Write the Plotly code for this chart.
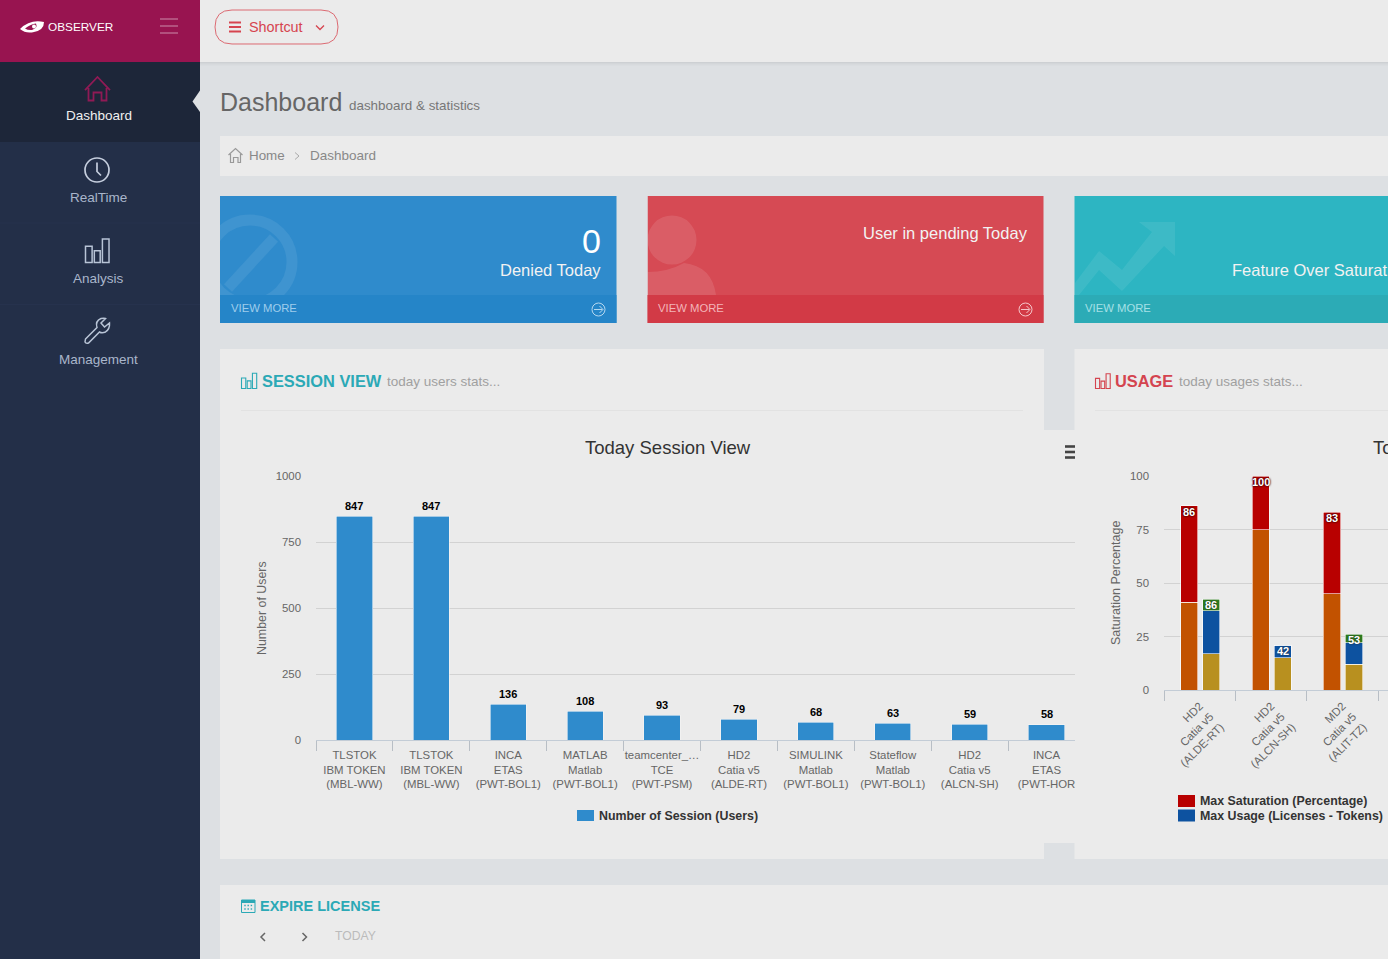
import plotly.graph_objects as go

W = 1388
H = 959

# chart data
session_labels = ["TLSTOK<br>IBM TOKEN<br>(MBL-WW)", "TLSTOK<br>IBM TOKEN<br>(MBL-WW)", "INCA<br>ETAS<br>(PWT-BOL1)",
                  "MATLAB<br>Matlab<br>(PWT-BOL1)", "teamcenter_…<br>TCE<br>(PWT-PSM)", "HD2<br>Catia v5<br>(ALDE-RT)",
                  "SIMULINK<br>Matlab<br>(PWT-BOL1)", "Stateflow<br>Matlab<br>(PWT-BOL1)", "HD2<br>Catia v5<br>(ALCN-SH)",
                  "INCA<br>ETAS<br>(PWT-HOR"]
session_values = [847, 847, 136, 108, 93, 79, 68, 63, 59, 58]
session_ticks = [0, 250, 500, 750, 1000]

usage_labels = ["HD2<br>Catia v5<br>(ALDE-RT)", "HD2<br>Catia v5<br>(ALCN-SH)", "MD2<br>Catia v5<br>(ALIT-TZ)"]
usage_ticks = [0, 25, 50, 75, 100]
sat_avg = [41, 75, 45]
sat_max = [45, 25, 38]
sat_text = ["86", "100", "83"]
lic_avg = [17, 15, 12]
lic_max = [20, 6, 10]
lic_top = [5.5, 0, 4]
lic_text = ["86", "42", "53"]

BG = "#dde0e3"
PANEL = "#ebebeb"
SIDE = "#232f48"
TEAL = "#2ba9b6"
RED = "#d4444f"
FONT = "Liberation Sans"

shapes = []
notes = []


def fx(x):
    return x / W


def fy(y):
    return 1 - y / H


def rect(x0, y0, x1, y1, fill, line=None, lw=1):
    shapes.append(dict(type="rect", xref="paper", yref="paper", x0=fx(x0), x1=fx(x1), y0=fy(y0), y1=fy(y1),
                       fillcolor=fill, line=dict(color=line or "rgba(0,0,0,0)", width=lw if line else 0), layer="below"))


def circle(cx, cy, r, fill=None, line=None, lw=1):
    shapes.append(dict(type="circle", xref="paper", yref="paper", x0=fx(cx - r), x1=fx(cx + r), y0=fy(cy - r), y1=fy(cy + r),
                       fillcolor=fill or "rgba(0,0,0,0)", line=dict(color=line or "rgba(0,0,0,0)", width=lw if line else 0), layer="below"))


def path(d, fill=None, line=None, lw=1):
    # d is written in screen pixels, converted here to paper fractions
    out = []
    is_x = True
    for tok in d.split():
        if tok.isalpha():
            out.append(tok)
        elif is_x:
            out.append(str(round(fx(float(tok)), 5)))
            is_x = False
        else:
            out.append(str(round(fy(float(tok)), 5)))
            is_x = True
    shapes.append(dict(type="path", xref="paper", yref="paper", path=" ".join(out),
                       fillcolor=fill or "rgba(0,0,0,0)", line=dict(color=line or "rgba(0,0,0,0)", width=lw if line else 0), layer="below"))


def text(x, y, s, size, color, anchor="left", bold=False, family=FONT, angle=0):
    notes.append(dict(xref="paper", yref="paper", x=fx(x), y=fy(y), text="<b>" + s + "</b>" if bold else s, showarrow=False,
                      xanchor=anchor, yanchor="middle", borderpad=0, borderwidth=0, textangle=angle,
                      font=dict(family=family, size=size, color=color)))


def barLabel(xaxis, yaxis, x, y, s, color, shift, shadow="none"):
    # value label tied to the data position of the bar top
    notes.append(dict(xref=xaxis, yref=yaxis, x=x, y=y, yshift=shift, text="<b>%s</b>" % s, showarrow=False,
                      xanchor="center", yanchor="middle", borderpad=0, borderwidth=0,
                      font=dict(family=FONT, size=11, color=color, shadow=shadow)))


def barsIcon(x, y, color, s=1.0, lw=1.3):
    # three outlined columns, x/y is the bottom left corner
    for dx, w, h in [(0, 4.5, 11), (6, 4, 8), (11.5, 4.5, 16)]:
        rect(x + dx * s, y - h * s, x + (dx + w) * s, y, "rgba(0,0,0,0)", color, lw)


# page blocks
rect(200, 62, 1388, 68, BG)
rect(200, 0, 1388, 62, PANEL)
for i, a in enumerate([0.07, 0.045, 0.025, 0.012]):
    rect(200, 62 + i, 1388, 63 + i, "rgba(0,0,0,%s)" % a)
rect(0, 62, 200, 959, SIDE)
rect(0, 62, 200, 142, "#1d2639")
rect(0, 222.5, 200, 223.5, "#26324d")
rect(0, 304, 200, 305, "#26324d")
rect(0, 0, 200, 62, "#981450")
path("M 200 90.5 L 192.5 101.5 L 200 112 Z", BG)

# logo and top bar
path("M 20 29 Q 30 19 44 22 Q 44 30 34 32 Q 26 34 20 29 Z", "#ffffff")
path("M 25 28.5 Q 31 24 36 23.5 Q 38 28 32 30 Q 28 30.5 25 28.5 Z", "#981450")
circle(34, 26.5, 2, "#ffffff")
text(48, 27, "OBSERVER", 11.8, "#ffffff")
for y in [19, 26, 33]:
    rect(160, y - 0.4, 178, y + 0.4, "rgba(255,255,255,0.65)")

path("M 232 10 L 321 10 Q 338 10 338 27 Q 338 44 321 44 L 232 44 Q 215 44 215 27 Q 215 10 232 10 Z", None, "#dc6a72", 1)
for y in [22.5, 27, 31.5]:
    rect(229, y - 1, 241, y + 1, "#d6444f")
text(249, 27, "Shortcut", 14.4, "#d6444f")
path("M 316 25.5 L 320 29.5 L 324 25.5", None, "#d6444f", 1.3)

text(220, 102, "Dashboard", 25, "#666666")
text(349, 106, "dashboard &amp; statistics", 13.4, "#777777")

rect(220, 136, 1388, 176, PANEL)
path("M 228.5 155 L 235.5 148.5 L 242.5 155 M 230.5 154 L 230.5 162.5 L 233.5 162.5 L 233.5 157.5 L 238 157.5 L 238 162.5 L 240.5 162.5 L 240.5 154",
     None, "#999999", 1.2)
text(249, 155.5, "Home", 13.4, "#888888")
path("M 295 152.5 L 299 156 L 295 159.5", None, "#aaaaaa", 1)
text(310, 155.5, "Dashboard", 13.5, "#888888")

# sidebar menu
path("M 85 90 L 97.5 77 L 110 90 M 88.5 88 L 88.5 100.5 L 93.5 100.5 L 93.5 92.5 L 101.5 92.5 L 101.5 100.5 L 106.5 100.5 L 106.5 88",
     None, "#8f1a55", 1.8)
text(98.5, 116, "Dashboard", 13.5, "#f0f0f0", "center")
circle(97, 170, 12, None, "#c5cede", 1.7)
path("M 97 162.5 L 97 171.5 L 101 175.5", None, "#c5cede", 1.7)
text(98.5, 198, "RealTime", 13.5, "#a9b6cb", "center")
barsIcon(85.5, 262.5, "#b8c4d6", 1.47, 1.5)
text(98.5, 278.5, "Analysis", 13.5, "#a9b6cb", "center")
path("M 85.5 339 L 97 327.5 Q 95 321 101 318.5 Q 104 318 105.5 318.5 L 101 323 L 104.5 327 L 109.5 323 Q 110 329 105.5 332 Q 102 333.5 99.5 332 L 88.5 343 Q 86 344 85 342 Z",
     None, "#b8c4d6", 1.5)
text(98.5, 359.5, "Management", 13.5, "#a9b6cb", "center")

# stat cards
rect(220, 196, 616.5, 323, "#2f8bcc")
circle(250, 262, 42, None, "rgba(255,255,255,0.08)", 11)
path("M 228 288 L 274 238", None, "rgba(255,255,255,0.08)", 11)
rect(200.5, 196, 220, 323, BG)
rect(220, 295, 616.5, 323, "#2585c8")
text(601, 241, "0", 34, "#ffffff", "right")
text(601, 270, "Denied Today", 16.5, "#f2f2f2", "right")
text(231, 308, "VIEW MORE", 11.3, "#9fcdec")
circle(598.5, 309.5, 6.5, None, "#b5d8f0", 1)
path("M 594 309.5 L 602.5 309.5 M 599.5 306 L 603 309.5 L 599.5 313", None, "#b5d8f0", 1)

rect(647.5, 196, 1043.5, 323, "#d64a54")
circle(672, 240, 24.5, "rgba(255,255,255,0.11)")
path("M 647.5 272 Q 668 272 684 263 Q 712 266 716 295 L 647.5 295 Z", "rgba(255,255,255,0.11)")
rect(617, 196, 647.5, 323, BG)
rect(647.5, 295, 1043.5, 323, "#d23a46")
text(1027.5, 233, "User in pending Today", 16.5, "#f2f2f2", "right")
text(658, 308, "VIEW MORE", 11.3, "#f3b4b9")
circle(1025.5, 309.5, 6.5, None, "#f5c6ca", 1)
path("M 1021 309.5 L 1029.5 309.5 M 1026.5 306 L 1030 309.5 L 1026.5 313", None, "#f5c6ca", 1)

rect(1074.5, 196, 1388, 323, "#2db5c2")
path("M 1075 283 L 1099 251 L 1122 270 L 1152 232 L 1139 222 L 1175 222 L 1175 256 L 1164 246 L 1122 291 L 1099 270 L 1075 300 Z",
     "rgba(255,255,255,0.08)")
rect(1074.5, 295, 1388, 323, "#2cabb6")
text(1232, 270.5, "Feature Over Saturat", 16.5, "#f2f2f2")
text(1085, 308, "VIEW MORE", 11.3, "#a5e0e6")

# chart panels
rect(220, 349, 1044, 859, PANEL)
rect(1044, 430, 1075, 843, PANEL)
rect(1074.5, 349, 1388, 859, PANEL)
rect(220, 885, 1388, 959, PANEL)
rect(241, 410, 1023, 411, "#e2e2e2")
rect(1095, 410, 1388, 411, "#e2e2e2")

barsIcon(241.5, 388.5, TEAL, 0.95, 1.1)
text(262, 381, "SESSION VIEW", 16.4, TEAL, bold=True)
text(387, 382, "today users stats...", 13.5, "#a0a0a0")
barsIcon(1095.5, 388.5, RED, 0.92, 1.1)
text(1115, 381, "USAGE", 16.4, RED, bold=True)
text(1179, 382, "today usages stats...", 13.5, "#a0a0a0")

text(668, 447.5, "Today Session View", 18.5, "#333333", "center")
text(1373, 447.5, "To", 18.5, "#333333")
for y in [446.5, 452, 457.5]:
    rect(1065, y - 1.3, 1075, y + 1.3, "#444444")

text(262, 608, "Number of Users", 12.4, "#666666", "center", angle=-90)
text(1116, 583, "Saturation Percentage", 12.5, "#666666", "center", angle=-90)

# legends
rect(577, 810, 594, 821, "#2f8bcc")
text(599, 816, "Number of Session (Users)", 12.4, "#333333", bold=True)
rect(1178, 795, 1195, 807, "#b80000")
text(1200, 801, "Max Saturation (Percentage)", 12.4, "#333333", bold=True)
rect(1178, 809.5, 1195, 821.5, "#0d52a0")
text(1200, 816, "Max Usage (Licenses - Tokens)", 12.4, "#333333", bold=True)

# expire license block
rect(241.5, 900, 255, 912.5, "rgba(0,0,0,0)", TEAL, 1)
rect(241.5, 900, 255, 903, TEAL)
for yy in [905.5, 909]:
    for xx in [245, 248.2, 251.4]:
        rect(xx - 0.7, yy - 0.7, xx + 0.7, yy + 0.7, TEAL)
text(260, 906, "EXPIRE LICENSE", 14.5, TEAL, bold=True)
path("M 265 933 L 261 937 L 265 941", None, "#666666", 1.5)
path("M 302.5 933 L 306.5 937 L 302.5 941", None, "#666666", 1.5)
text(335, 936, "TODAY", 12.2, "#bbbbbb")

fig = go.Figure()

session_x = list(range(len(session_values)))
fig.add_trace(go.Bar(x=session_x, y=session_values, width=0.47, name="Number of Session (Users)",
                     marker=dict(color="#2f8bcc", line=dict(color="#f5f5f5", width=0.6)),
                     xaxis="x", yaxis="y", showlegend=False))
for i, v in enumerate(session_values):
    barLabel("x", "y", i, v, v, "#000000", 10.5)

usage_x = list(range(len(usage_labels)))
left_x = [i - 0.147 for i in usage_x]
right_x = [i + 0.161 for i in usage_x]
usage_series = [
    ("Avg Saturation", left_x, sat_avg, "#c25200"),
    ("Max Saturation (Percentage)", left_x, sat_max, "#b80000"),
    ("Avg Usage", right_x, lic_avg, "#b8901f"),
    ("Max Usage (Licenses - Tokens)", right_x, lic_max, "#0d52a0"),
    ("Over Usage", right_x, lic_top, "#2f7d1e"),
]
for name, xs, ys, col in usage_series:
    fig.add_trace(go.Bar(x=xs, y=ys, width=0.24, name=name,
                         marker=dict(color=col, line=dict(color="#ffffff", width=0.6)),
                         xaxis="x2", yaxis="y2", showlegend=False))
for i in usage_x:
    barLabel("x2", "y2", left_x[i], sat_avg[i] + sat_max[i], sat_text[i], "#ffffff", -6, "0 0 2px #300, 0 0 2px #300")
    barLabel("x2", "y2", right_x[i], lic_avg[i] + lic_max[i] + lic_top[i], lic_text[i], "#ffffff", -6, "0 0 2px #222")

axis_font = dict(family=FONT, size=11.4, color="#666666")
fig.update_layout(
    width=W, height=H, autosize=False,
    margin=dict(l=0, r=0, t=0, b=0, autoexpand=False),
    paper_bgcolor=BG, plot_bgcolor="rgba(0,0,0,0)",
    barmode="stack", showlegend=False,
    shapes=shapes, annotations=notes,
    xaxis=dict(domain=[fx(316), fx(1075)], range=[-0.5, -0.5 + (1075 - 316) / 76.9], anchor="y",
               tickmode="array", tickvals=session_x, ticktext=session_labels, ticks="", tickfont=axis_font,
               tickangle=0, showgrid=False, zeroline=False, showline=True, linecolor="#c3ccd6", linewidth=1,
               ticklabelstandoff=4,
               minor=dict(tickmode="array", tickvals=[i - 0.5 for i in session_x], ticks="outside", ticklen=10,
                          tickcolor="#b8bec5", tickwidth=1, showgrid=False)),
    yaxis=dict(domain=[fy(740), fy(476)], range=[0, 1000], anchor="x", tickmode="array", tickvals=session_ticks,
               tickfont=axis_font, ticks="", ticklabelstandoff=14, gridcolor="#d2d2d2", gridwidth=1, zeroline=False,
               showline=False),
    xaxis2=dict(domain=[fx(1164), 1], range=[-0.5, -0.5 + (1388 - 1164) / 71.4], anchor="y2",
                tickmode="array", tickvals=usage_x, ticktext=usage_labels, ticks="", tickfont=axis_font,
                tickangle=-45, showgrid=False, zeroline=False, showline=True, linecolor="#c3ccd6", linewidth=1,
                ticklabelstandoff=4,
                minor=dict(tickmode="array", tickvals=[i - 0.5 for i in range(4)], ticks="outside", ticklen=10,
                           tickcolor="#b8bec5", tickwidth=1, showgrid=False)),
    yaxis2=dict(domain=[fy(690), fy(476)], range=[0, 100], anchor="x2", tickmode="array", tickvals=usage_ticks,
                tickfont=axis_font, ticks="", ticklabelstandoff=14, gridcolor="#d2d2d2", gridwidth=1, zeroline=False,
                showline=False),
)

fig.write_html("out.html", config=dict(displayModeBar=False),
               post_script="document.body.style.margin='0';document.body.style.overflow='hidden';")
